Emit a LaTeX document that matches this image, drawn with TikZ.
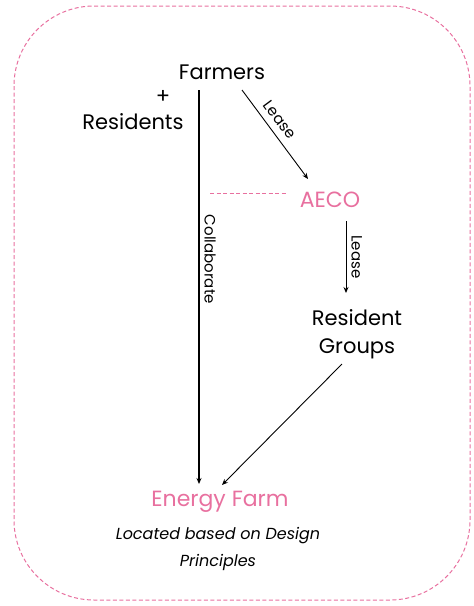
\documentclass[tikz,border=0pt]{standalone}
\usepackage{fontspec}
\setmainfont{Poppins}
\usetikzlibrary{
    arrows.meta,
    positioning
}
\definecolor{aecopink}{HTML}{E8709F}

\begin{document}
\begin{tikzpicture}[
        x=1pt, y=-1pt,
        >={Stealth[length=6pt,width=5pt]},
        label/.style={
            font=\fontsize{21}{24}\selectfont,
            inner sep=1pt
        },
        pinklabel/.style={
            label,
            font=\fontsize{22}{24}\selectfont,
            text=aecopink
        },
        edgetext/.style={
            font=\fontsize{15}{17}\selectfont,
            inner sep=1pt
        },
        pinkdash/.style={
            draw=aecopink,
            line width=1pt,
            dash pattern=on 4pt off 2.5pt
        }
    ]
        \useasboundingbox (0,0) rectangle (474,606);
        \draw[pinkdash, rounded corners=80pt] (14,6) rectangle (470,600);

        \node[label] (farmers) at (222,72) {Farmers};
        \node[label] (plus) at (163,97) {+};
        \node[label] (residents) at (133,122) {Residents};
        \node[pinklabel] (aeco) at (330,200) {AECO};
        \node[label, align=center] (groups) at (357,334) {Resident\\[4pt]Groups};
        \node[pinklabel] (energy) at (220,502) {Energy Farm};
        \node[font=\itshape\fontsize{16}{27}\selectfont, align=center] (located) at (218,549)
            {Located based on Design\\Principles};

        \coordinate (collab top) at (199,90);
        \coordinate (collab end) at (199,484);
        \coordinate (lease top) at (242,90);
        \coordinate (lease end) at (308,179);
        \coordinate (lease2 top) at (346,221);
        \coordinate (lease2 end) at (346,293);
        \coordinate (groups out) at (342,364);
        \coordinate (groups end) at (222,485);
        \coordinate (dash start) at (210,193);
        \coordinate (dash end) at (286,193);

        \draw[->, line width=1.2pt] (collab top) -- (collab end)
            node[edgetext, pos=0.43, sloped, above=4pt] {Collaborate};
        \draw[->, line width=0.9pt] (lease top) -- (lease end)
            node[edgetext, pos=0.42, sloped, above=6pt] {Lease};
        \draw[->, line width=0.9pt] (lease2 top) -- (lease2 end)
            node[edgetext, midway, sloped, above=4pt] {Lease};
        \draw[->, line width=0.9pt] (groups out) -- (groups end);
        \draw[pinkdash] (dash start) -- (dash end);
    \end{tikzpicture}
\end{document}
